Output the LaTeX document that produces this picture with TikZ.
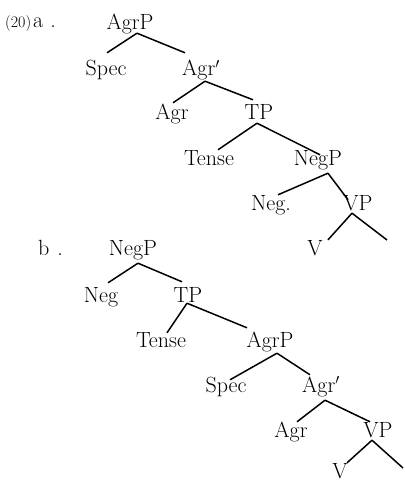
\documentclass[tikz,border=0pt]{standalone}
\usetikzlibrary{calc}
\begin{document}
\begin{tikzpicture}[x=1pt,y=-1pt,
  lab/.style={anchor=base,inner sep=0pt,text height=15pt,text depth=4pt,font=\fontsize{22}{26}\selectfont},
  br/.style={line width=1.5pt}]
\useasboundingbox (0,0) rectangle (404,481);
% tree a
\node[lab,anchor=base west] (la) at (5,28) {{\fontsize{16}{16}\selectfont(20)}\hspace{2pt}a\hspace{7pt}.};
\node[lab] (a1) at (130,30) {AgrP};
\node[lab] (a2) at (106,76) {Spec};
\node[lab] (a3) at (201,76) {Agr$'$};
\node[lab] (a4) at (172,120) {Agr};
\node[lab] (a5) at (259,120) {TP};
\node[lab] (a6) at (209,165) {Tense};
\node[lab] (a7) at (318,165) {NegP};
\node[lab] (a8) at (271,210) {Neg.};
\node[lab] (a9) at (358,210) {VP};
\node[lab] (a10) at (315,255) {V};
\coordinate (a11) at (387,240);
\draw[br] ($(a1.south)+(7,-1)$) -- ($(a2.north)+(1,-8)$);
\draw[br] ($(a1.south)+(7,-1)$) -- ($(a3.north)+(-16,-8)$);
\draw[br] ($(a3.south)+(4,1)$) -- ($(a4.north)+(1,-2)$);
\draw[br] ($(a3.south)+(4,1)$) -- ($(a5.north)+(-6,-5)$);
\draw[br] ($(a5.south)+(-2,-1)$) -- ($(a6.north)+(9,0)$);
\draw[br] ($(a5.south)+(-2,-1)$) -- ($(a7.north)+(2,5)$);
\draw[br] ($(a7.south)+(10,4)$) -- ($(a8.north)+(7,0)$);
\draw[br] ($(a7.south)+(10,4)$) -- ($(a9.north)+(-10,5)$);
\draw[br] ($(a9.south)+(-6,-1)$) -- ($(a10.north)+(13,0)$);
\draw[br] ($(a9.south)+(-6,-1)$) -- (a11);
% tree b
\node[lab,anchor=base west] (lb) at (38,255) {b\hspace{8pt}.};
\node[lab] (b1) at (133,255) {NegP};
\node[lab] (b2) at (101,302) {Neg};
\node[lab] (b3) at (188,302) {TP};
\node[lab] (b4) at (161,347) {Tense};
\node[lab] (b5) at (270,347) {AgrP};
\node[lab] (b6) at (226,392) {Spec};
\node[lab] (b7) at (321,392) {Agr$'$};
\node[lab] (b8) at (291,437) {Agr};
\node[lab] (b9) at (378,437) {VP};
\node[lab] (b10) at (340,478) {V};
\coordinate (b11) at (403,468);
\draw[br] ($(b1.south)+(5,4)$) -- ($(b2.north)+(7,-4)$);
\draw[br] ($(b1.south)+(5,4)$) -- ($(b3.north)+(-6,-5)$);
\draw[br] ($(b3.south)+(-1,-3)$) -- ($(b4.north)+(6,1)$);
\draw[br] ($(b3.south)+(-1,-3)$) -- ($(b5.north)+(-23,-4)$);
\draw[br] ($(b5.south)+(7,2)$) -- ($(b6.north)+(4,3)$);
\draw[br] ($(b5.south)+(7,2)$) -- ($(b7.north)+(-11,-2)$);
\draw[br] ($(b7.south)+(4,4)$) -- ($(b8.north)+(6,0)$);
\draw[br] ($(b7.south)+(4,4)$) -- ($(b9.north)+(-8,0)$);
\draw[br] ($(b9.south)+(-6,-1)$) -- ($(b10.north)+(7,0)$);
\draw[br] ($(b9.south)+(-6,-1)$) -- (b11);
\end{tikzpicture}
\end{document}
